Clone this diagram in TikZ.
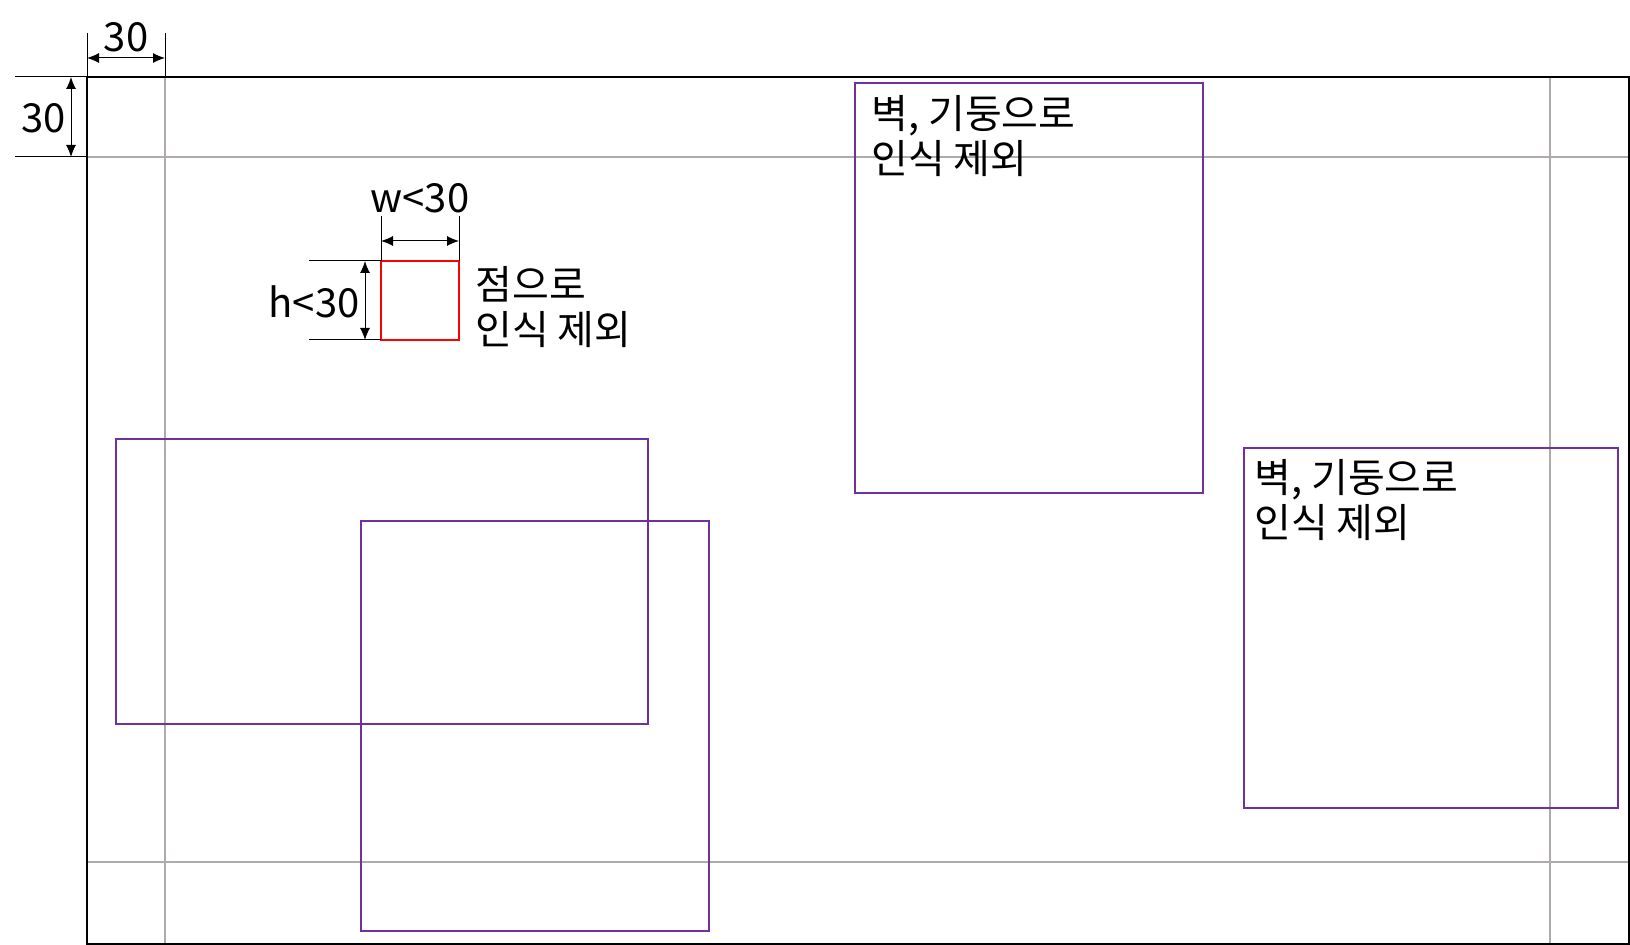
\documentclass[tikz,border=0pt]{standalone}
\usepackage{fontspec}
\setmainfont{Noto Sans CJK KR}
\usetikzlibrary{arrows.meta}
\definecolor{guidegray}{RGB}{175,171,171}
\definecolor{zonepurple}{RGB}{112,48,160}
\definecolor{dotred}{RGB}{255,0,0}
\begin{document}
\begin{tikzpicture}[x=0.5pt,y=-0.5pt,
  frame/.style={line width=0.8pt,draw=black},
  guide/.style={line width=0.65pt,draw=guidegray},
  zone/.style={line width=0.7pt,draw=zonepurple},
  dotbox/.style={line width=0.7pt,draw=dotred},
  extline/.style={line width=0.5pt,draw=black},
  dimarrow/.style={line width=0.5pt,draw=black,{Latex[length=6pt,width=5pt]}-{Latex[length=6pt,width=5pt]}},
  lbl/.style={font=\fontsize{20}{22.5}\selectfont,inner sep=0pt,align=left}]
\useasboundingbox (0,0) rectangle (1630,945);
% frame corners
\coordinate (ftl) at (87,77);
\coordinate (fbr) at (1629,944);
% guide lines
\coordinate (gv1t) at (165,77);  \coordinate (gv1b) at (165,944);
\coordinate (gv2t) at (1550,77); \coordinate (gv2b) at (1550,944);
\coordinate (gh1l) at (87,157);  \coordinate (gh1r) at (1629,157);
\coordinate (gh2l) at (87,862);  \coordinate (gh2r) at (1629,862);
\draw[guide] (gv1t) -- (gv1b);
\draw[guide] (gv2t) -- (gv2b);
\draw[guide] (gh1l) -- (gh1r);
\draw[guide] (gh2l) -- (gh2r);
\draw[frame] (ftl) rectangle (fbr);
% top 30 dimension
\coordinate (ex1t) at (87,33);  \coordinate (ex2t) at (165,33);
\coordinate (ex2b) at (165,77);
\draw[extline] (ex1t) -- (ftl);
\draw[extline] (ex2t) -- (ex2b);
\coordinate (da1) at (87,58); \coordinate (da2) at (165,58);
\draw[dimarrow] (da1) -- (da2);
\node[lbl] (topthirty) at (126,37) {30};
% left 30 dimension
\coordinate (ey1l) at (15,77);  \coordinate (ey2l) at (15,157);
\coordinate (ey2r) at (87,157);
\draw[extline] (ey1l) -- (ftl);
\draw[extline] (ey2l) -- (ey2r);
\coordinate (db1) at (71,77); \coordinate (db2) at (71,157);
\draw[dimarrow] (db1) -- (db2);
\node[lbl] (leftthirty) at (44,118) {30};
% red small box
\coordinate (rtl) at (381,261); \coordinate (rbr) at (459,340);
\draw[dotbox] (rtl) rectangle (rbr);
\coordinate (wx1) at (381,216); \coordinate (wx1b) at (381,261);
\coordinate (wx2) at (459,216); \coordinate (wx2b) at (459,261);
\draw[extline] (wx1) -- (wx1b);
\draw[extline] (wx2) -- (wx2b);
\coordinate (wa1) at (381,241); \coordinate (wa2) at (459,241);
\draw[dimarrow] (wa1) -- (wa2);
\node[lbl] (wlabel) at (420,198) {w<30};
\coordinate (hy1) at (309,261); \coordinate (hy1r) at (381,261);
\coordinate (hy2) at (309,340); \coordinate (hy2r) at (381,340);
\draw[extline] (hy1) -- (hy1r);
\draw[extline] (hy2) -- (hy2r);
\coordinate (ha1) at (365,261); \coordinate (ha2) at (365,340);
\draw[dimarrow] (ha1) -- (ha2);
\node[lbl] (hlabel) at (314,302) {h<30};
\node[lbl,anchor=west] (dotnote) at (475,307) {점으로\\인식 제외};
% purple zones
\draw[zone] (116,439) rectangle (648,724);
\draw[zone] (361,521) rectangle (709,931);
\draw[zone] (855,83) rectangle (1203,493);
\draw[zone] (1244,448) rectangle (1618,808);
\node[lbl,anchor=west] (wallnoteA) at (871,136) {벽, 기둥으로\\인식 제외};
\node[lbl,anchor=west] (wallnoteB) at (1254,500) {벽, 기둥으로\\인식 제외};
\end{tikzpicture}
\end{document}
